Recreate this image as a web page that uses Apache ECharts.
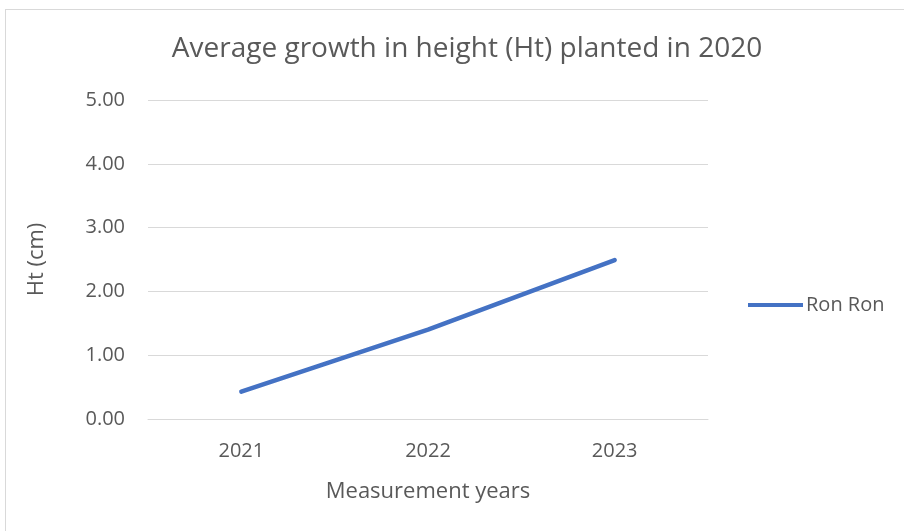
<!DOCTYPE html>
<html>
<head>
<meta charset="utf-8">
<script src="https://cdn.jsdelivr.net/npm/echarts@6/dist/echarts.min.js"></script>
<style>
  html, body { margin: 0; padding: 0; background: #fff; }
  #frame { position: absolute; left: 5px; top: 9px; width: 910px; height: 540px; border: 1px solid #d9d9d9; box-sizing: border-box; }
  #chart { position: absolute; left: 0; top: 0; width: 904px; height: 531px; }
</style>
</head>
<body>
<div id="frame"></div>
<div id="chart"></div>
<script>
const years = ['2021', '2022', '2023']
const ronRon = [0.43, 1.40, 2.49]
const seriesName = 'Ron Ron'

const font = 'Open Sans, Noto Sans, sans-serif'
const textColor = '#595959'
const Chart = echarts.init(document.getElementById('chart'))
let option = {
  animation: false,
  color: ['#4472C4'],
  title: {
    text: 'Average growth in height (Ht) planted in 2020',
    left: 462,
    top: 30,
    textAlign: 'center',
    textStyle: { color: textColor, fontSize: 28, fontWeight: 'normal', fontFamily: font }
  },
  legend: {
    left: 748,
    top: 295,
    padding: 0,
    itemWidth: 55,
    itemHeight: 14,
    itemGap: 4,
    icon: 'path://M0,5 L55,5 L55,9 L0,9 Z',
    textStyle: { color: textColor, fontSize: 20, fontFamily: font, padding: [0, 0, 0, -2] },
    data: [seriesName]
  },
  grid: { left: 148, right: 196, top: 100, bottom: 112 },
  xAxis: {
    type: 'category',
    data: years,
    name: 'Measurement years',
    nameLocation: 'middle',
    nameGap: 62,
    nameTextStyle: { color: textColor, fontSize: 22, fontFamily: font },
    axisLine: { lineStyle: { color: '#d9d9d9', width: 1 } },
    axisTick: { show: false },
    axisLabel: { color: textColor, fontSize: 20, fontFamily: font, margin: 22 }
  },
  yAxis: {
    type: 'value',
    min: 0,
    max: 5,
    interval: 1,
    name: 'Ht (cm)',
    nameLocation: 'middle',
    nameGap: 100,
    nameTextStyle: { color: textColor, fontSize: 22, fontFamily: font },
    axisLine: { show: false },
    axisTick: { show: false },
    splitLine: { lineStyle: { color: '#d9d9d9', width: 1 } },
    axisLabel: { color: textColor, fontSize: 20, fontFamily: font, margin: 23, formatter: v => v.toFixed(2) }
  },
  series: [
    {
      name: seriesName,
      type: 'line',
      data: ronRon,
      symbol: 'none',
      lineStyle: { width: 4.5, cap: 'round', join: 'round' }
    }
  ]
}
option && Chart.setOption(option)
</script>
</body>
</html>
